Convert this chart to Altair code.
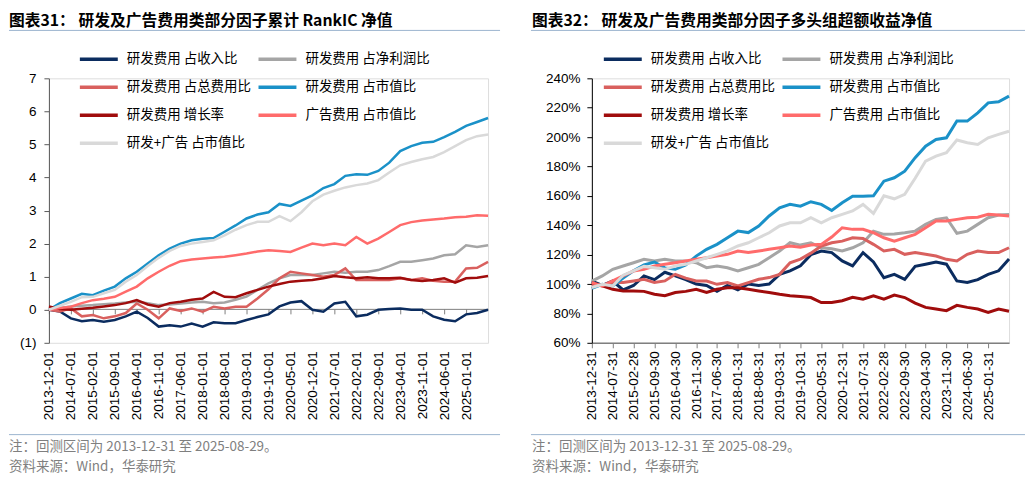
import json
import altair as alt
import pandas as pd

CJK = "Noto Sans CJK SC"
NUM = "Liberation Sans"

SERIES = ["研发费用 占收入比", "研发费用 占净利润比", "研发费用 占总费用比", "研发费用 占市值比",
          "研发费用 增长率", "广告费用 占市值比", "研发+广告 占市值比"]
COLORS = ["#0B2C5F", "#A5A5A5", "#D9605E", "#1A91C8", "#A00C0C", "#FF6B6B", "#D9D9D9"]

LEFT_TITLE = "图表31：  研发及广告费用类部分因子累计 RankIC 净值"
RIGHT_TITLE = "图表32：  研发及广告费用类部分因子多头组超额收益净值"
NOTE = "注：回测区间为 2013-12-31 至 2025-08-29。"
SOURCE = "资料来源：Wind，华泰研究"

TICK_MONTHS = [0, 7, 14, 21, 28, 35, 42, 49, 56, 63, 70, 77, 84, 91, 98, 105, 112, 119, 126, 133]
LEFT_TICK_LABELS = ["2013-12-01", "2014-07-01", "2015-02-01", "2015-09-01", "2016-04-01", "2016-11-01",
                    "2017-06-01", "2018-01-01", "2018-08-01", "2019-03-01", "2019-10-01", "2020-05-01",
                    "2020-12-01", "2021-07-01", "2022-02-01", "2022-09-01", "2023-04-01", "2023-11-01",
                    "2024-06-01", "2025-01-01"]
RIGHT_TICK_LABELS = ["2013-12-31", "2014-07-31", "2015-02-28", "2015-09-30", "2016-04-30", "2016-11-30",
                     "2017-06-30", "2018-01-31", "2018-08-31", "2019-03-31", "2019-10-31", "2020-05-31",
                     "2020-12-31", "2021-07-31", "2022-02-28", "2022-09-30", "2023-04-30", "2023-11-30",
                     "2024-06-30", "2025-01-31"]

# sample months (months since 2013-12)
MONTHS = [0, 3.5, 7, 10.5, 14, 17.5, 21, 24.5, 28, 31.5, 35, 38.5, 42, 45.5, 49, 52.5, 56, 59.5, 63, 66.5,
          70, 73.5, 77, 80.5, 84, 87.5, 91, 94.5, 98, 101.5, 105, 108.5, 112, 115.5, 119, 122.5, 126, 129.5,
          133, 136.5, 140]

# ---- left: cumulative RankIC
l_income = [0, -0.05, -0.26, -0.35, -0.31, -0.36, -0.31, -0.2, -0.06, -0.25, -0.51, -0.47, -0.51, -0.42,
            -0.51, -0.38, -0.41, -0.41, -0.31, -0.22, -0.14, 0.1, 0.22, 0.26, 0.0, -0.06, 0.19, 0.24, -0.2,
            -0.15, 0.0, 0.02, 0.04, 0.0, 0.0, -0.2, -0.3, -0.35, -0.14, -0.1, 0.0]
l_profit = [0, 0.05, 0.1, 0.12, 0.14, 0.17, 0.19, 0.22, 0.24, 0.2, 0.14, 0.16, 0.19, 0.22, 0.24, 0.2, 0.22,
            0.3, 0.4, 0.6, 0.8, 0.95, 1.05, 1.05, 1.05, 1.1, 1.15, 1.12, 1.15, 1.15, 1.2, 1.32, 1.45, 1.45,
            1.5, 1.55, 1.65, 1.68, 1.95, 1.9, 1.95]
l_cost = [0, -0.05, 0.04, -0.2, -0.16, -0.26, -0.2, -0.1, 0.19, 0.0, -0.26, 0.04, -0.04, 0.04, -0.06, 0.09,
          0.04, 0.09, 0.09, 0.34, 0.62, 0.95, 1.15, 1.1, 1.05, 1.0, 1.05, 1.25, 0.9, 0.9, 0.9, 0.9, 0.95,
          0.9, 0.95, 0.88, 0.85, 0.85, 1.25, 1.27, 1.45]
l_mv = [0, 0.2, 0.34, 0.48, 0.44, 0.58, 0.7, 0.95, 1.15, 1.4, 1.65, 1.85, 2.0, 2.1, 2.15, 2.17, 2.36, 2.55,
        2.76, 2.88, 2.95, 3.2, 3.14, 3.3, 3.46, 3.68, 3.8, 4.05, 4.1, 4.08, 4.2, 4.45, 4.8, 4.95, 5.05, 5.08,
        5.22, 5.38, 5.56, 5.68, 5.8]
l_growth = [0.1, 0.02, 0.0, 0.03, 0.06, 0.1, 0.14, 0.2, 0.29, 0.16, 0.09, 0.2, 0.24, 0.3, 0.34, 0.54, 0.39,
            0.38, 0.5, 0.6, 0.7, 0.78, 0.85, 0.88, 0.9, 0.95, 1.02, 0.98, 0.95, 0.98, 0.95, 0.95, 0.97, 0.9,
            0.87, 0.9, 0.95, 0.82, 0.95, 0.97, 1.02]
l_ad = [0, 0.05, 0.09, 0.2, 0.29, 0.33, 0.39, 0.55, 0.7, 0.95, 1.15, 1.33, 1.47, 1.52, 1.55, 1.58, 1.6, 1.65,
        1.7, 1.76, 1.8, 1.78, 1.75, 1.88, 2.0, 1.95, 2.0, 1.95, 2.2, 2.0, 2.15, 2.35, 2.56, 2.65, 2.7, 2.73,
        2.76, 2.8, 2.81, 2.86, 2.84]
l_combo = [0, 0.12, 0.24, 0.38, 0.39, 0.5, 0.6, 0.85, 1.05, 1.32, 1.57, 1.78, 1.93, 2.0, 2.05, 2.1, 2.25,
           2.42, 2.56, 2.66, 2.66, 2.83, 2.68, 2.95, 3.28, 3.48, 3.6, 3.7, 3.77, 3.82, 3.92, 4.15, 4.37, 4.47,
           4.55, 4.62, 4.77, 4.95, 5.13, 5.25, 5.3]

# ---- right: long-group excess return NAV (%)
r_income = [102, 99, 102, 96, 99, 105.5, 103, 108, 105.5, 103, 100, 99, 95, 99, 96, 100, 99, 100, 106.6, 109,
            112.4, 120, 122.5, 121.4, 115.7, 112.3, 121.4, 115, 104.3, 106.6, 103.2, 112, 113.5, 115, 113.5,
            102.1, 101, 103, 106.6, 109, 117]
r_profit = [102, 105.5, 110, 112.3, 114.5, 116.8, 115.7, 116.8, 115.7, 115.7, 114.5, 111.1, 112.3, 111.1,
            108.9, 111.1, 113.4, 117.9, 122.5, 128.1, 126.5, 128, 124.7, 124, 122.5, 124.7, 128.1, 136, 133.8,
            134, 134.9, 136, 140.6, 144, 145.1, 134.5, 136, 140.6, 145.1, 147, 147.4]
r_cost = [99.8, 98.7, 101, 101, 102.1, 103.2, 101, 102.1, 106.6, 104, 102.1, 102, 99.8, 101, 98.7, 101, 103.2,
          104.4, 106.6, 114.5, 117, 121, 125.9, 128.1, 129.2, 131.5, 131, 127, 122.5, 123.6, 120.2, 121.4,
          120.2, 119.1, 116.8, 115.7, 120.2, 122.5, 121.4, 121.4, 124.7]
r_mv = [97, 99.8, 98.7, 104, 109, 113, 115, 111, 110, 113, 119, 123.6, 127, 131.5, 136, 135, 139.5, 146.3,
        151.9, 154.2, 153, 156, 154.2, 150, 155.3, 159.8, 159.8, 160, 170, 172.3, 176.8, 186, 193.8, 198.4,
        199.5, 211, 210.9, 216.5, 223.3, 224, 227.9]
r_growth = [101, 98.7, 96.4, 95.3, 95.3, 95, 93, 92, 94.2, 95, 96.4, 94.2, 96.4, 97.5, 97.5, 96.4, 95.3, 94.2,
            93, 92, 91.5, 90.8, 87.4, 87.4, 88.6, 91, 89.7, 92, 89.7, 92.5, 90.8, 87, 84.1, 83, 81.9, 85.5,
            84.1, 83, 80.7, 83, 81.5]
r_ad = [101, 98.7, 102.1, 105.5, 108.9, 110, 112.3, 113.4, 114.5, 115.7, 116.8, 117.9, 119.1, 120.2, 122.5,
        121.4, 122.5, 123.6, 124.7, 125.9, 125, 126.5, 127, 132, 138.3, 137.2, 137.2, 134.9, 131.5, 129.2,
        131.5, 133.8, 138.3, 142.9, 142.9, 144, 145.1, 145.5, 147.4, 147, 146.3]
r_combo = [97.6, 99.8, 98.7, 106, 108.9, 112, 111.1, 110, 112.3, 113.4, 115.7, 117.9, 120.2, 122.5, 125.9,
           128.1, 131.5, 134.9, 139.5, 141.7, 141.7, 145.1, 141.7, 145.1, 147.4, 149.7, 154.2, 148, 160, 158,
           161, 172, 183.7, 187.1, 189.4, 198, 196.2, 195, 199.5, 201.8, 204]

LEFT_VALUES = [l_income, l_profit, l_cost, l_mv, l_growth, l_ad, l_combo]
RIGHT_VALUES = [r_income, r_profit, r_cost, r_mv, r_growth, r_ad, r_combo]


def long_df(values):
    rows = []
    for k, (name, vals) in enumerate(zip(SERIES, values)):
        for m, v in zip(MONTHS, vals):
            rows.append({"series": name, "k": k, "m": m, "v": v})
    return pd.DataFrame(rows)


def legend(x):
    return alt.Legend(orient="none", legendX=x, legendY=-40, columns=2, direction="horizontal", title=None,
                      symbolType="stroke", symbolSize=1444, symbolStrokeWidth=3.5,
                      labelFont=CJK, labelFontSize=13.5, labelColor="#000000", labelOffset=7,
                      columnPadding=0, rowPadding=0, labelLimit=300)


def text_layer(txt, x, y, size, color, weight="normal"):
    return alt.Chart(pd.DataFrame({"t": [txt]})).mark_text(
        align="left", baseline="middle", font=CJK, fontSize=size, fontWeight=weight, color=color
    ).encode(x=alt.value(x), y=alt.value(y), text="t:N")


def sep_layer(x1, x2, y, opacity=1.0):
    return alt.Chart(pd.DataFrame({"a": [0]})).mark_rule(
        color="#9DB5CF", strokeWidth=1, opacity=opacity).encode(
        x=alt.value(x1), x2=alt.value(x2), y=alt.value(y))


def label_expr(labels):
    return json.dumps(labels, ensure_ascii=False) + "[round(datum.value / 7)]"


color_scale = alt.Scale(domain=SERIES, range=COLORS)

TITLE_Y = -57.5
TOP_EDGE = -69.5   # invisible top edge so the title glyphs are not clipped

# ---------------- left panel
LW, H = 440, 265
left_lines = alt.Chart(long_df(LEFT_VALUES)).mark_line(strokeWidth=2.5).encode(
    x=alt.X("m:Q", scale=alt.Scale(domain=[0, 140], nice=False),
            axis=alt.Axis(values=TICK_MONTHS, labelExpr=label_expr(LEFT_TICK_LABELS), title=None,
                          offset=-34, domainColor="#7F7F7F", domainWidth=1, tickColor="#7F7F7F",
                          tickSize=5, labelAngle=270, labelPadding=37, labelFont=NUM, labelFontSize=13.5,
                          labelColor="#000000", labelOverlap=False, grid=False)),
    y=alt.Y("v:Q", scale=alt.Scale(domain=[-1, 7], nice=False),
            axis=alt.Axis(values=[-1, 0, 1, 2, 3, 4, 5, 6, 7],
                          labelExpr="datum.value < 0 ? '(' + (-datum.value) + ')' : datum.value",
                          title=None, domainColor="#595959", tickColor="#595959", tickSize=5,
                          labelPadding=8, labelFont=NUM, labelFontSize=13.5, labelColor="#000000",
                          grid=False)),
    color=alt.Color("series:N", scale=color_scale, legend=legend(29)),
    order=alt.Order("m:Q"),
    detail="k:O",
)

left = alt.layer(
    left_lines,
    sep_layer(-40, 452, TOP_EDGE, opacity=0),
    text_layer(LEFT_TITLE, -40, TITLE_Y, 15.8, "#000000", "bold"),
    sep_layer(-40, 452, -48),
    sep_layer(-40, 452, 357),
    text_layer(NOTE, -40, 369, 13.5, "#7F7F7F"),
    text_layer(SOURCE, -40, 389, 13.5, "#7F7F7F"),
).properties(width=LW, height=H)

# ---------------- right panel
RW = 418
right_lines = alt.Chart(long_df(RIGHT_VALUES)).mark_line(strokeWidth=3).encode(
    x=alt.X("m:Q", scale=alt.Scale(domain=[0, 140], nice=False),
            axis=alt.Axis(values=TICK_MONTHS, labelExpr=label_expr(RIGHT_TICK_LABELS), title=None,
                          domainColor="#7F7F7F", domainWidth=1.5, tickColor="#7F7F7F", tickSize=5,
                          labelAngle=270, labelPadding=3, labelFont=NUM, labelFontSize=13.5,
                          labelColor="#000000", labelOverlap=False, grid=False)),
    y=alt.Y("v:Q", scale=alt.Scale(domain=[60, 240], nice=False),
            axis=alt.Axis(values=[60, 80, 100, 120, 140, 160, 180, 200, 220, 240],
                          labelExpr="datum.value + '%'", title=None, domainColor="#000000",
                          tickColor="#000000", tickSize=5, labelPadding=7, labelFont=NUM,
                          labelFontSize=13.5, labelColor="#000000", grid=False)),
    color=alt.Color("series:N", scale=color_scale, legend=legend(10)),
    order=alt.Order("m:Q"),
    detail="k:O",
)

right = alt.layer(
    right_lines,
    sep_layer(-61, 434, TOP_EDGE, opacity=0),
    text_layer(RIGHT_TITLE, -60, TITLE_Y, 15.8, "#000000", "bold"),
    sep_layer(-61, 434, -48),
    sep_layer(-61, 434, 357),
    text_layer(NOTE, -60, 369, 13.5, "#7F7F7F"),
    text_layer(SOURCE, -60, 389, 13.5, "#7F7F7F"),
).properties(width=RW, height=H)

chart = alt.hconcat(left, right, spacing=29).resolve_scale(color="independent").properties(
    padding=0
).configure_view(stroke=None).configure(background="#FFFFFF")

chart.save("out.html", embed_options={"renderer": "svg", "actions": False})
